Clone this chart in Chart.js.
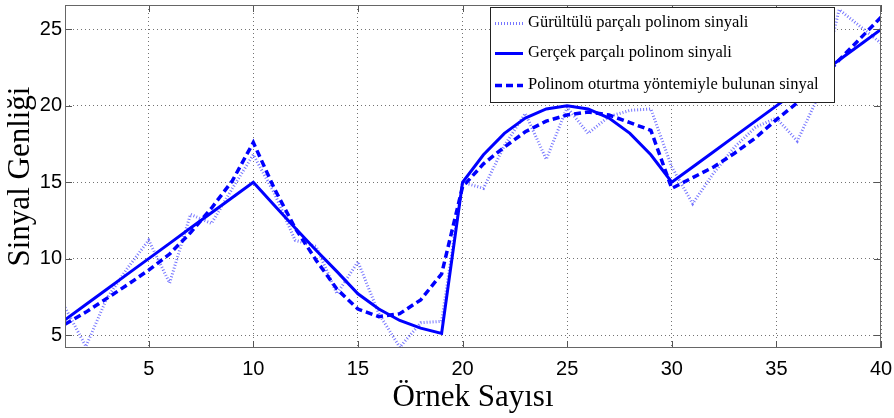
<!DOCTYPE html>
<html>
<head>
<meta charset="utf-8">
<script src="https://cdn.jsdelivr.net/npm/chart.js@4.4.0/dist/chart.umd.min.js"></script>
<style>
  html, body { margin: 0; padding: 0; background: #fff; }
  #wrap { width: 894px; height: 418px; }
</style>
</head>
<body>
<div id="wrap"><canvas id="myChart" width="894" height="418"></canvas></div>
<script>
// sample index (x axis)
const samples = [1,2,3,4,5,6,7,8,9,10,11,12,13,14,15,16,17,18,19,20,
                 21,22,23,24,25,26,27,28,29,30,31,32,33,34,35,36,37,38,39,40];

// noisy piecewise polynomial signal
const noisy = [6.8,4.25,7.4,9.4,11.2,8.4,12.9,12.3,14.6,16.8,
               14.3,11.2,10.8,7.7,9.8,6.4,4.2,5.8,5.9,15.0,
               14.6,17.4,19.5,16.5,19.9,18.2,19.3,19.7,19.8,16.0,
               13.6,15.6,17.3,18.6,19.2,17.7,20.6,26.3,25.2,24.1];

// true piecewise polynomial signal
const real = [6,7,8,9,10,11,12,13,14,15,
              13.5,12.0,10.55,9.15,7.7,6.7,5.95,5.45,5.1,15,
              16.8,18.2,19.2,19.8,20,19.8,19.2,18.2,16.8,15,
              16,17,18,19,20,21,22,23,24,25];

// signal found by polynomial fitting
const fitted = [5.7,6.5,7.4,8.3,9.25,10.3,11.7,13.3,15.1,17.6,
                14.6,12.0,9.9,8.0,6.7,6.2,6.4,7.3,9.0,14.7,
                16.2,17.3,18.3,19.0,19.4,19.6,19.4,18.9,18.4,14.6,
                15.3,16.0,16.9,17.9,19.1,20.2,21.5,23.0,24.4,25.8];

const xTicks = [5,10,15,20,25,30,35,40];
const yTicks = [5,10,15,20,25];

const legendLabels = [
  "Gürültülü parçalı polinom sinyali",
  "Gerçek parçalı polinom sinyali",
  "Polinom oturtma yöntemiyle bulunan sinyal"
];

const toPts = (arr) => arr.map((v, i) => ({x: samples[i], y: v}));

const BLUE = "#0000ff";
const NOISY = "rgba(60,60,255,0.7)";

// plot frame, inner tick marks and legend box (matlab style)
const framePlugin = {
  id: "frame",
  afterDraw(chart) {
    const ctx = chart.ctx;
    const a = chart.chartArea;
    const xs = chart.scales.x, ys = chart.scales.y;
    ctx.save();
    ctx.strokeStyle = "#555";
    ctx.lineWidth = 1;
    ctx.beginPath();
    xTicks.forEach(t => {
      const p = Math.round(xs.getPixelForValue(t)) + 0.5;
      ctx.moveTo(p, a.bottom); ctx.lineTo(p, a.bottom - 7);
      ctx.moveTo(p, a.top); ctx.lineTo(p, a.top + 7);
    });
    yTicks.forEach(t => {
      const p = Math.round(ys.getPixelForValue(t)) + 0.5;
      ctx.moveTo(a.left, p); ctx.lineTo(a.left + 7, p);
      ctx.moveTo(a.right, p); ctx.lineTo(a.right - 7, p);
    });
    ctx.stroke();
    ctx.strokeStyle = "#666";
    ctx.strokeRect(a.left + 0.5, a.top + 0.5, a.right - a.left - 1, a.bottom - a.top - 1);

    // legend
    const lx = 490, ly = 7, lw = 344, lh = 95;
    ctx.fillStyle = "#fff";
    ctx.fillRect(lx, ly, lw, lh);
    ctx.strokeStyle = "#222";
    ctx.strokeRect(lx + 0.5, ly + 0.5, lw, lh);
    const rows = [23, 53, 85];
    const styles = [
      {w: 3, dash: [1, 2], color: NOISY},
      {w: 3, dash: [], color: BLUE},
      {w: 3.5, dash: [7, 4], color: BLUE}
    ];
    ctx.font = "16.5px 'Liberation Serif'";
    ctx.textBaseline = "middle";
    rows.forEach((ry, i) => {
      const s = styles[i];
      ctx.beginPath();
      ctx.lineWidth = s.w;
      ctx.strokeStyle = s.color;
      ctx.setLineDash(s.dash);
      ctx.moveTo(495, ry + 0.5);
      ctx.lineTo(523, ry + 0.5);
      ctx.stroke();
      ctx.setLineDash([]);
      ctx.fillStyle = "#000";
      ctx.fillText(legendLabels[i], 528, ry);
    });
    ctx.restore();
  }
};

const ctx1 = document.getElementById("myChart").getContext("2d");

new Chart(ctx1, {
  type: "line",
  data: {
    datasets: [{
      label: legendLabels[0],
      data: toPts(noisy),
      borderColor: NOISY,
      borderWidth: 3,
      borderDash: [1, 2],
      pointRadius: 0,
      tension: 0,
      order: 3
    }, {
      label: legendLabels[1],
      data: toPts(real),
      borderColor: BLUE,
      borderWidth: 3,
      pointRadius: 0,
      tension: 0,
      order: 2
    }, {
      label: legendLabels[2],
      data: toPts(fitted),
      borderColor: BLUE,
      borderWidth: 3.5,
      borderDash: [7, 4],
      pointRadius: 0,
      tension: 0,
      order: 1
    }]
  },
  options: {
    responsive: false,
    animation: false,
    layout: { padding: { top: 5, right: 13, left: 0, bottom: 0 } },
    plugins: {
      legend: { display: false },
      tooltip: { enabled: false }
    },
    scales: {
      x: {
        type: "linear",
        min: 1,
        max: 40,
        afterBuildTicks: (s) => { s.ticks = xTicks.map(v => ({value: v})); },
        afterFit: (s) => { s.height = 70; s.paddingLeft = 0; s.paddingRight = 0; },
        grid: { color: "rgba(0,0,0,0.55)", drawTicks: false, tickLength: 0 },
        border: { display: false, dash: [1, 3] },
        ticks: {
          color: "#000",
          padding: 9,
          maxRotation: 0,
          font: { size: 20, family: "Liberation Sans" }
        },
        title: {
          display: true,
          text: "Örnek Sayısı",
          color: "#000",
          font: { size: 31, family: "Liberation Serif" },
          padding: { top: 0, bottom: 2 }
        }
      },
      y: {
        type: "linear",
        min: 4.15,
        max: 26.6,
        afterBuildTicks: (s) => { s.ticks = yTicks.map(v => ({value: v})); },
        afterFit: (s) => { s.width = 65; s.paddingTop = 0; s.paddingBottom = 0; },
        grid: { color: "rgba(0,0,0,0.55)", drawTicks: false, tickLength: 0 },
        border: { display: false, dash: [1, 3] },
        ticks: {
          color: "#000",
          padding: 3,
          font: { size: 20, family: "Liberation Sans" }
        },
        title: {
          display: true,
          text: "Sinyal Genliği",
          color: "#000",
          font: { size: 31, family: "Liberation Serif" },
          padding: { top: 2, bottom: 0 }
        }
      }
    }
  },
  plugins: [framePlugin]
});
</script>
</body>
</html>
